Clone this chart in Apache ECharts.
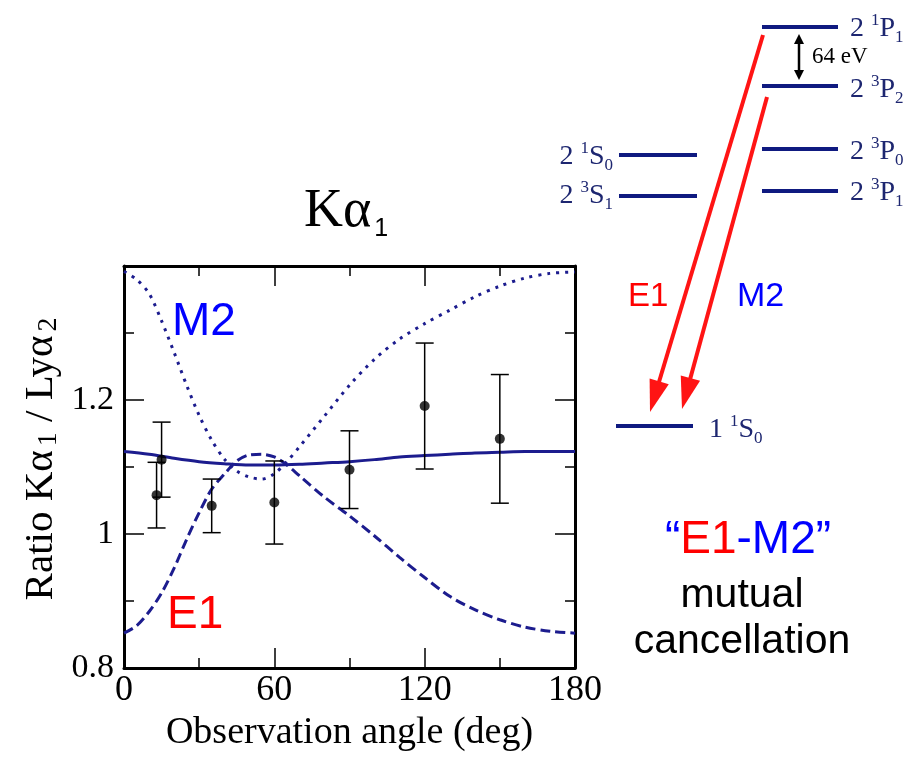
<!DOCTYPE html>
<html>
<head>
<meta charset="utf-8">
<script src="https://cdn.jsdelivr.net/npm/echarts@6/dist/echarts.min.js"></script>
<style>html,body{margin:0;padding:0;background:#fff;}#c{width:916px;height:757px;}</style>
</head>
<body>
<div id="c"></div>
<script>
// ---- data ----
const xTickLabels = [0, 60, 120, 180];
const yTickLabels = [0.8, 1, 1.2];

// E1 only (dashed)
const e1Angles = [0, 5, 10, 15, 20, 25, 30, 35, 40, 45, 50, 55, 60, 65, 70, 80, 90, 100, 110, 120, 130, 140, 150, 160, 170, 180];
const e1Values = [0.852, 0.863, 0.884, 0.912, 0.949, 0.992, 1.032, 1.067, 1.089, 1.109, 1.118, 1.119, 1.115, 1.103, 1.087, 1.055, 1.027, 0.997, 0.965, 0.935, 0.907, 0.887, 0.872, 0.861, 0.855, 0.852];

// M2 only (dotted)
const m2Angles = [0, 5, 10, 15, 20, 25, 30, 35, 40, 45, 50, 55, 60, 65, 70, 80, 90, 100, 110, 120, 130, 140, 150, 160, 170, 180];
const m2Values = [1.392, 1.380, 1.359, 1.318, 1.271, 1.222, 1.177, 1.140, 1.112, 1.094, 1.085, 1.082, 1.090, 1.108, 1.130, 1.176, 1.222, 1.261, 1.291, 1.314, 1.334, 1.354, 1.370, 1.382, 1.389, 1.391];

// E1 + M2 (solid)
const totAngles = [0, 10, 20, 30, 40, 50, 60, 70, 80, 90, 100, 110, 120, 130, 140, 150, 160, 170, 180];
const totValues = [1.123, 1.119, 1.113, 1.108, 1.105, 1.103, 1.103, 1.104, 1.106, 1.108, 1.111, 1.115, 1.117, 1.119, 1.121, 1.122, 1.123, 1.123, 1.123];

// measurements
const expAngles = [13, 15, 35, 60, 90, 120, 150];
const expRatios = [1.058, 1.111, 1.042, 1.047, 1.096, 1.191, 1.142];
const expErrors = [0.049, 0.056, 0.040, 0.062, 0.058, 0.094, 0.096];

// ---- chart ----
const SERIF = "'Liberation Serif','Times New Roman',serif";
const SANS = "'Liberation Sans',Arial,sans-serif";
const CURVE = '#1c1c8e';
const LEVEL = '#0f1a80';
const LTXT = '#1d2670';
const RED = '#ff1414';

const zip = (a, b) => a.map((v, i) => [v, b[i]]);

function arrow(x1, y1, x2, y2, color, w, hl, hw) {
  const dx = x2 - x1, dy = y2 - y1, L = Math.hypot(dx, dy);
  const ux = dx / L, uy = dy / L, px = -uy, py = ux;
  const bx = x2 - ux * hl, by = y2 - uy * hl;
  return [
    { type: 'line', silent: true, shape: { x1, y1, x2: bx + ux * 2, y2: by + uy * 2 }, style: { stroke: color, lineWidth: w } },
    { type: 'polygon', silent: true, shape: { points: [[x2, y2], [bx + px * hw, by + py * hw], [bx - px * hw, by - py * hw]] }, style: { fill: color } }
  ];
}
function level(x1, x2, y) {
  return { type: 'line', silent: true, shape: { x1, y1: y, x2, y2: y }, style: { stroke: LEVEL, lineWidth: 4 } };
}
const termRich = {
  n: { fontFamily: SERIF, fontSize: 28, fill: LTXT, lineHeight: 34 },
  sup: { fontFamily: SERIF, fontSize: 17, fill: LTXT, lineHeight: 20, verticalAlign: 'top' },
  sub: { fontFamily: SERIF, fontSize: 17, fill: LTXT, lineHeight: 18, verticalAlign: 'bottom' }
};
function term(x, y, n, mult, L, J, align) {
  return { type: 'text', silent: true, x, y,
    style: { text: '{n|' + n + ' }{sup|' + mult + '}{n|' + L + '}{sub|' + J + '}', rich: termRich, align: align || 'left', verticalAlign: 'middle' } };
}

const graphics = [
  // title
  { type: 'text', silent: true, x: 304, y: 212,
    style: { text: '{k|Kα}{s|1}', verticalAlign: 'middle',
      rich: { k: { fontFamily: SERIF, fontSize: 54, fill: '#000', lineHeight: 60 },
              s: { fontFamily: SANS, fontSize: 25, fill: '#000', lineHeight: 24, verticalAlign: 'bottom', padding: [0, 0, 0, 3] } } } },
  // in-plot labels
  { type: 'text', silent: true, x: 172, y: 322, style: { text: 'M2', fontFamily: SANS, fontSize: 46, fill: '#0000ff', verticalAlign: 'middle' } },
  { type: 'text', silent: true, x: 167, y: 615, style: { text: 'E1', fontFamily: SANS, fontSize: 46, fill: '#ff0000', verticalAlign: 'middle' } },
  // levels
  level(762, 838, 27), level(762, 838, 86), level(762, 838, 149), level(762, 838, 191),
  level(619, 697, 155), level(619, 697, 196), level(616, 693, 426),
  term(850, 29, '2', '1', 'P', '1'), term(850, 90, '2', '3', 'P', '2'),
  term(850, 152, '2', '3', 'P', '0'), term(850, 193, '2', '3', 'P', '1'),
  term(613, 157, '2', '1', 'S', '0', 'right'), term(613, 196, '2', '3', 'S', '1', 'right'),
  term(709, 430, '1', '1', 'S', '0'),
  { type: 'text', silent: true, x: 812, y: 57, style: { text: '64 eV', fontFamily: SERIF, fontSize: 23, fill: '#000', verticalAlign: 'middle' } },
  ...arrow(799, 57, 799, 34, '#000', 2.5, 10, 5),
  ...arrow(799, 57, 799, 80, '#000', 2.5, 10, 5),
  ...arrow(763, 35, 650, 412, RED, 4, 32, 10),
  ...arrow(767, 97, 682, 409, RED, 4, 32, 10),
  { type: 'text', silent: true, x: 628, y: 297, style: { text: 'E1', fontFamily: SANS, fontSize: 33, fill: '#ff0000', verticalAlign: 'middle' } },
  { type: 'text', silent: true, x: 737, y: 297, style: { text: 'M2', fontFamily: SANS, fontSize: 34, fill: '#0000ff', verticalAlign: 'middle' } },
  { type: 'text', silent: true, x: 748, y: 540,
    style: { text: '{b|“}{r|E1}{b|-M2”}', align: 'center', verticalAlign: 'middle',
      rich: { b: { fontFamily: SANS, fontSize: 46, fill: '#0000ff' }, r: { fontFamily: SANS, fontSize: 46, fill: '#ff0000' } } } },
  { type: 'text', silent: true, x: 742, y: 596, style: { text: 'mutual', fontFamily: SANS, fontSize: 41, fill: '#000', align: 'center', verticalAlign: 'middle' } },
  { type: 'text', silent: true, x: 742, y: 642, style: { text: 'cancellation', fontFamily: SANS, fontSize: 41, fill: '#000', align: 'center', verticalAlign: 'middle' } }
];

const frameAxis = {
  axisLine: { show: true, onZero: false, lineStyle: { color: '#000', width: 3 } },
  axisTick: { show: true, inside: true, length: 20, lineStyle: { color: '#000', width: 1.5 } },
  minorTick: { show: true, splitNumber: 2, length: 10, lineStyle: { color: '#000', width: 1.5 } },
  splitLine: { show: false }
};

const option = {
  animation: false,
  backgroundColor: '#fff',
  grid: { left: 124, right: 341, top: 266, bottom: 89 },
  xAxis: [
    Object.assign({ type: 'value', min: 0, max: 180, interval: 60, position: 'bottom',
      name: 'Observation angle (deg)', nameLocation: 'middle', nameGap: 45,
      nameTextStyle: { fontFamily: SERIF, fontSize: 38, color: '#000' },
      axisLabel: { fontFamily: SERIF, fontSize: 36, color: '#000', margin: 5,
        formatter: v => xTickLabels.includes(v) ? String(v) : '' } }, frameAxis),
    Object.assign({ type: 'value', min: 0, max: 180, interval: 60, position: 'top', axisLabel: { show: false } }, frameAxis)
  ],
  yAxis: [
    Object.assign({ type: 'value', min: 0.8, max: 1.4, interval: 0.2, position: 'left',
      name: 'Ratio Kα{sub|1} / Lyα{sub|2}', nameLocation: 'middle', nameGap: 61, nameRotate: 90,
      nameTextStyle: { fontFamily: SERIF, fontSize: 41, color: '#000', lineHeight: 44, padding: [0, 0, 0, 16],
        rich: { sub: { fontFamily: SERIF, fontSize: 28, color: '#000', lineHeight: 34, verticalAlign: 'bottom', padding: [0, 0, 0, 4] } } },
      axisLabel: { fontFamily: SERIF, fontSize: 34, color: '#000', margin: 10,
        formatter: v => { const m = yTickLabels.find(t => Math.abs(t - v) < 1e-6); return m === undefined ? '' : String(m); } } }, frameAxis),
    Object.assign({ type: 'value', min: 0.8, max: 1.4, interval: 0.2, position: 'right', axisLabel: { show: false } }, frameAxis)
  ],
  graphic: graphics,
  series: [
    { type: 'line', name: 'E1', data: zip(e1Angles, e1Values), showSymbol: false, smooth: 0.3,
      lineStyle: { color: CURVE, width: 3, type: [10, 5] }, z: 3 },
    { type: 'line', name: 'M2', data: zip(m2Angles, m2Values), showSymbol: false, smooth: 0.3,
      lineStyle: { color: CURVE, width: 3, type: [3, 6] }, z: 3 },
    { type: 'line', name: 'E1+M2', data: zip(totAngles, totValues), showSymbol: false, smooth: 0.3,
      lineStyle: { color: CURVE, width: 3 }, z: 3 },
    { type: 'custom', name: 'err', z: 4,
      data: expAngles.map((a, i) => [a, expRatios[i] - expErrors[i], expRatios[i] + expErrors[i]]),
      renderItem: (params, api) => {
        const lo = api.coord([api.value(0), api.value(1)]);
        const hi = api.coord([api.value(0), api.value(2)]);
        const hw = 9;
        const st = { stroke: '#000', lineWidth: 1.5 };
        return { type: 'group', children: [
          { type: 'line', shape: { x1: lo[0], y1: lo[1], x2: hi[0], y2: hi[1] }, style: st },
          { type: 'line', shape: { x1: lo[0] - hw, y1: lo[1], x2: lo[0] + hw, y2: lo[1] }, style: st },
          { type: 'line', shape: { x1: hi[0] - hw, y1: hi[1], x2: hi[0] + hw, y2: hi[1] }, style: st }
        ] };
      } },
    { type: 'scatter', name: 'data', data: zip(expAngles, expRatios), symbol: 'circle', symbolSize: 10,
      itemStyle: { color: '#000' }, z: 5 }
  ]
};
echarts.init(document.getElementById('c')).setOption(option);
</script>
</body>
</html>
